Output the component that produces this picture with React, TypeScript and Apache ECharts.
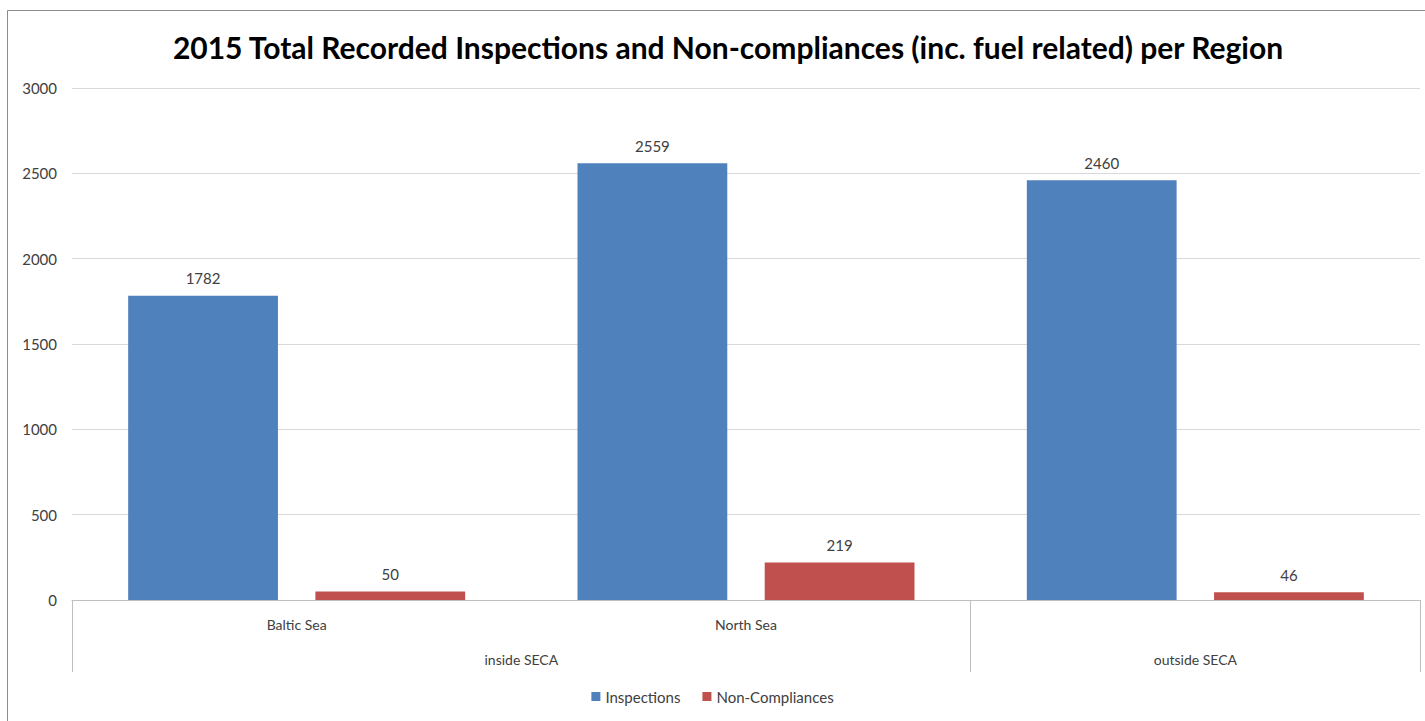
import React, { useEffect, useRef } from "react";
import * as echarts from "echarts";

// Regions (first level) and their SECA grouping (second level)
const regions = ["Baltic Sea", "North Sea", ""];
const groupLabels = ["", "", "inside SECA", "", "", "outside SECA", ""];
const groupTickIndices = [0, 4, 6];

const inspections = [1782, 2559, 2460];
const nonCompliances = [50, 219, 46];

const yTicks = { min: 0, max: 3000, interval: 500 };

const FONT = "Lato, 'Open Sans', sans-serif";
const BLUE = "#4F81BD";
const RED = "#C0504D";
const GRID = "#D9D9D9";

export default function App() {
  const ref = useRef<HTMLDivElement>(null);

  useEffect(() => {
    if (!ref.current) return;
    const chart = echarts.init(ref.current, null, { renderer: "svg" });

    const labelStyle = {
      show: true,
      position: "top" as const,
      distance: 10,
      color: "#404040",
      fontFamily: FONT,
      fontSize: 15,
    };

    chart.setOption({
      animation: false,
      backgroundColor: "#ffffff",
      title: {
        text: "2015 Total Recorded Inspections and Non-compliances (inc. fuel related) per Region",
        left: 723,
        textAlign: "center",
        top: 27,
        textStyle: {
          fontFamily: FONT,
          fontWeight: "bold",
          fontSize: 30,
          color: "#000000",
        },
      },
      graphic: [
        {
          type: "rect",
          shape: { x: 7.5, y: 10.5, width: 1430, height: 730 },
          style: { fill: "none", stroke: "#8C8C8C", lineWidth: 1 },
          silent: true,
          z: -1,
        },
      ],
      legend: {
        bottom: 12,
        left: "center",
        itemWidth: 9,
        itemHeight: 9,
        itemGap: 22,
        icon: "rect",
        textStyle: { fontFamily: FONT, fontSize: 15, color: "#404040" },
        data: ["Inspections", "Non-Compliances"],
      },
      grid: { left: 72, right: 5, top: 88, bottom: 121, containLabel: false },
      xAxis: [
        {
          type: "category",
          data: regions,
          axisLine: { show: true, lineStyle: { color: "#BFBFBF" } },
          axisTick: { show: false },
          axisLabel: {
            margin: 17,
            color: "#404040",
            fontFamily: FONT,
            fontSize: 14,
          },
        },
        {
          type: "category",
          position: "bottom",
          boundaryGap: false,
          data: groupLabels,
          axisLine: { show: false },
          axisTick: {
            show: true,
            length: 72,
            interval: (index: number) => groupTickIndices.includes(index),
            lineStyle: { color: "#BFBFBF" },
          },
          axisLabel: {
            interval: 0,
            margin: 52,
            color: "#404040",
            fontFamily: FONT,
            fontSize: 14,
          },
        },
      ],
      yAxis: {
        type: "value",
        min: yTicks.min,
        max: yTicks.max,
        interval: yTicks.interval,
        axisLine: { show: false },
        axisTick: { show: false },
        splitLine: { lineStyle: { color: GRID } },
        axisLabel: {
          margin: 15,
          color: "#404040",
          fontFamily: FONT,
          fontSize: 15,
          formatter: (v: number) => String(v),
        },
      },
      series: [
        {
          name: "Inspections",
          type: "bar",
          xAxisIndex: 0,
          data: inspections,
          itemStyle: { color: BLUE },
          barGap: "25%",
          barCategoryGap: "25%",
          label: labelStyle,
        },
        {
          name: "Non-Compliances",
          type: "bar",
          xAxisIndex: 0,
          data: nonCompliances,
          itemStyle: { color: RED },
          barGap: "25%",
          barCategoryGap: "25%",
          label: labelStyle,
        },
      ],
    });

    return () => chart.dispose();
  }, []);

  return (
    <div
      ref={ref}
      style={{ position: "fixed", left: 0, top: 0, width: 1425, height: 721 }}
    />
  );
}
